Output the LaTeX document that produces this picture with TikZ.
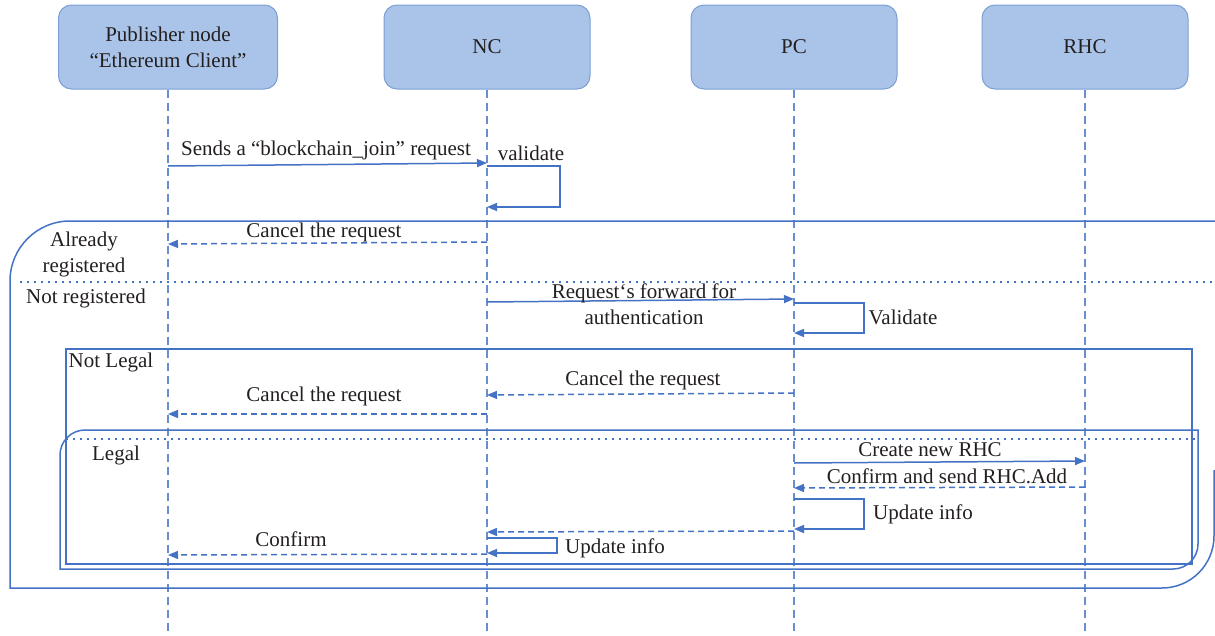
\documentclass[tikz,border=0pt]{standalone}
\usepackage{fontspec}
\setmainfont{Liberation Serif}
\usetikzlibrary{arrows.meta}
\definecolor{lineblue}{RGB}{68,114,196}
\definecolor{lifeblue}{RGB}{104,142,208}
\definecolor{headfill}{RGB}{169,196,232}
\definecolor{headdraw}{RGB}{124,159,212}
\definecolor{ink}{RGB}{35,31,32}
\begin{document}
\begin{tikzpicture}[x=1pt,y=-1pt,
  font=\fontsize{21}{26}\selectfont, text=ink,
  head/.style={draw=headdraw, fill=headfill, rounded corners=13pt, line width=1pt,
    minimum width=206pt, minimum height=84pt, align=center, inner sep=0pt},
  life/.style={draw=lifeblue, line width=1.3pt, dash pattern=on 8pt off 5pt},
  msg/.style={draw=lineblue, line width=1.5pt, -{Triangle[length=10pt,width=8pt]}},
  reply/.style={msg, dash pattern=on 6pt off 4pt},
  frame/.style={draw=lineblue, line width=1.5pt},
  guard/.style={draw=lineblue, line width=1.6pt, dash pattern=on 1.6pt off 5.4pt},
  lbl/.style={inner sep=0pt, align=center}]
\useasboundingbox (0,0) rectangle (1215,635);

% participants
\node[head, minimum width=219pt] (pub) at (168,47) {Publisher node\\“Ethereum Client”};
\node[head] (nc)  at (487,47) {NC};
\node[head] (pc)  at (794,47) {PC};
\node[head] (rhc) at (1085,47) {RHC};

% lifelines
\coordinate (pubE) at (pub |- 0,632);
\coordinate (ncE)  at (nc |- 0,632);
\coordinate (pcE)  at (pc |- 0,632);
\coordinate (rhcE) at (rhc |- 0,632);
\draw[life] (pub.south) -- (pubE);
\draw[life] (nc.south)  -- (ncE);
\draw[life] (pc.south)  -- (pcE);
\draw[life] (rhc.south) -- (rhcE);

% outer alternative frame
\draw[frame] (1216,221) [rounded corners=60pt] -- (10,221)
  [sharp corners] -- (10,588) [rounded corners=52pt] -- (1214,588) -- (1214,470);
\draw[guard] (20,282) -- (1215,282);

% nested frame: not legal / legal
\draw[frame] (66,349) rectangle (1192,564);
\draw[frame] (60,569) [rounded corners=25pt] -- (60,430) [sharp corners] -- (1198,430)
  [rounded corners=25pt] -- (1198,569) [sharp corners] -- cycle;
\draw[guard] (66,439) -- (1196,439);

% frame guards
\node[lbl] (g1) at (84,254) {Already\\registered};
\node[lbl] (g2) at (86,298) {Not registered};
\node[lbl] (g3) at (111,362) {Not Legal};
\node[lbl] (g4) at (116,455) {Legal};

% join request
\draw[msg] (pub |- 0,166) -- (nc |- 0,163);
\node[lbl] (m1) at (326,150) {Sends a “blockchain\_join” request};
\draw[msg] (nc |- 0,166) -- ++(73,0) -- ++(0,41) -- (nc |- 0,207);
\node[lbl] (m2) at (531,153) {validate};

% already registered
\draw[reply] (nc |- 0,242) -- (pub |- 0,244);
\node[lbl] (m3) at (324,232) {Cancel the request};

% not registered
\draw[msg] (nc |- 0,302) -- (pc |- 0,299);
\node[lbl] (m4) at (644,304) {Request‘s forward for\\authentication};
\draw[msg] (pc |- 0,303) -- ++(70,0) -- ++(0,30) -- (pc |- 0,333);
\node[lbl] (m5) at (903,317) {Validate};

% not legal
\draw[reply] (pc |- 0,393) -- (nc |- 0,395);
\node[lbl] (m6) at (643,380) {Cancel the request};
\draw[reply] (nc |- 0,414) -- (pub |- 0,414);
\node[lbl] (m7) at (324,396) {Cancel the request};

% legal
\draw[msg] (pc |- 0,463) -- (rhc |- 0,461);
\node[lbl] (m8) at (930,450) {Create new RHC};
\draw[reply] (rhc |- 0,487) -- (pc |- 0,488);
\node[lbl] (m9) at (947,476) {Confirm and send RHC.Add};
\draw[msg] (pc |- 0,499) -- ++(70,0) -- ++(0,30) -- (pc |- 0,529);
\node[lbl] (m10) at (923,514) {Update info};
\draw[reply] (pc |- 0,531) -- (nc |- 0,532);
\draw[msg] (nc |- 0,538) -- ++(70,0) -- ++(0,15) -- (nc |- 0,553);
\node[lbl] (m11) at (615,548) {Update info};
\draw[reply] (nc |- 0,554) -- (pub |- 0,555);
\node[lbl] (m12) at (291,539) {Confirm};
\end{tikzpicture}
\end{document}
